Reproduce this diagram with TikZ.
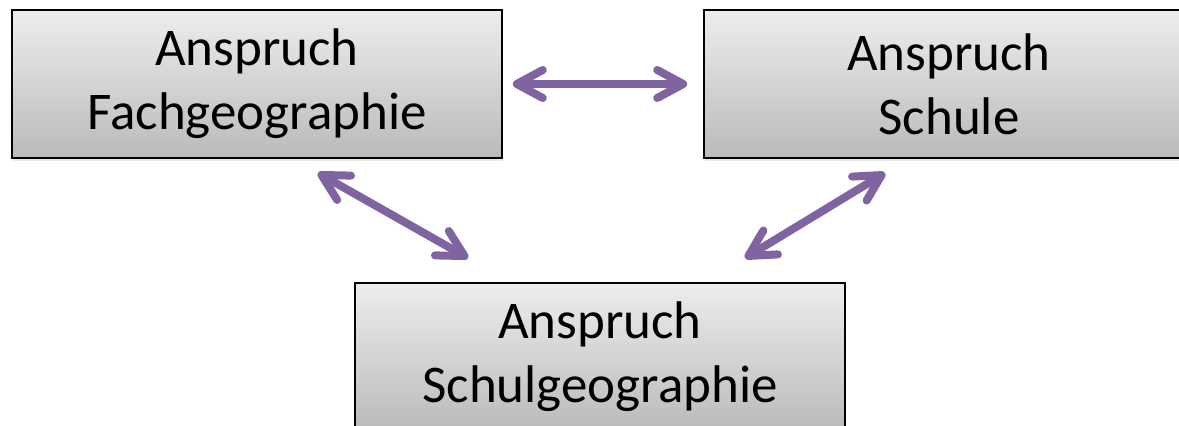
\documentclass[tikz,border=0pt]{standalone}
\usepackage{xcolor}
\usepackage{fontspec}
\setmainfont{Carlito}
\usepackage{tikz}
\usetikzlibrary{arrows.meta}
\usetikzlibrary{shadows}
\definecolor{claimpurple}{HTML}{8064A2}

\begin{document}
\begin{tikzpicture}[x=1pt,y=-1pt,
    claimbox/.style={draw,
      line width=1.6pt,
      top color=black!7,
      bottom color=black!27,
      drop shadow={opacity=0.18,shadow xshift=1pt,shadow yshift=-3pt},
      minimum width=490pt,
      minimum height=148pt,
      inner sep=0pt,
      align=center,
      font=\fontsize{53}{64}\selectfont},
    claimarrow/.style={draw=claimpurple,
      line width=8pt,
      line cap=round,
      {Straight Barb[length=26pt,width=28pt,line cap=round,line join=round]}-{Straight Barb[length=26pt,width=28pt,line cap=round,line join=round]}}]
      \useasboundingbox (0,0) rectangle (1179,426);
      \node[claimbox] (fach) at (257,84) {Anspruch\\Fachgeographie};
      \node[claimbox] (schule) at (949,84) {Anspruch\\Schule};
      \node[claimbox] (schulgeo) at (600,357) {Anspruch\\Schulgeographie};
      \coordinate (fachfoot) at (318,173);
      \coordinate (schulefoot) at (885,173);
      \coordinate (geoleft) at (468,258);
      \coordinate (georight) at (745,258);
      \draw[claimarrow,shorten <=10pt,shorten >=16pt] (fach.east) -- (schule.west);
      \draw[claimarrow] (fachfoot) -- (geoleft);
      \draw[claimarrow] (georight) -- (schulefoot);
    \end{tikzpicture}
\end{document}
